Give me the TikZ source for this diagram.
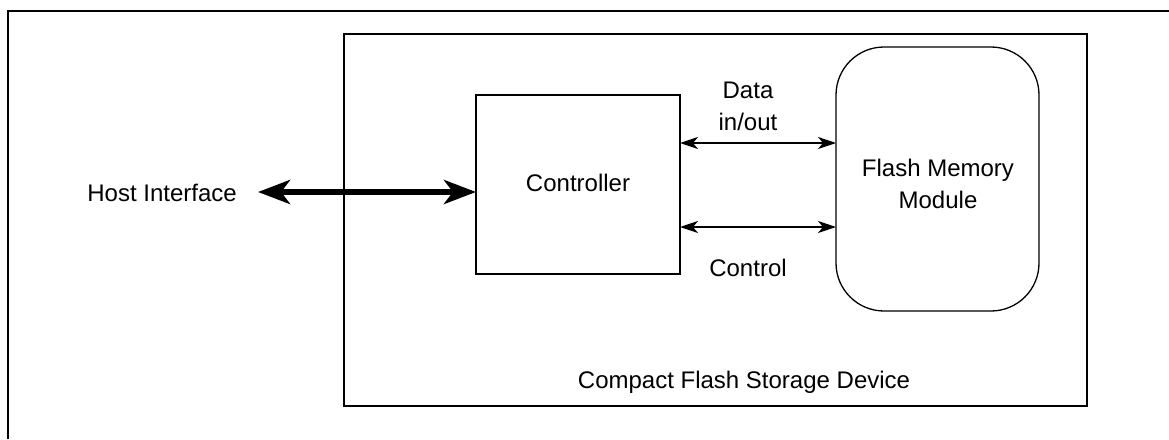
\documentclass[tikz,border=0pt]{standalone}
\usepackage{fontspec}
\setmainfont{Liberation Sans}
\usetikzlibrary{arrows.meta}
\begin{document}
\begin{tikzpicture}[x=1pt,y=-1pt,
  lbl/.style={font=\fontsize{24}{32}\selectfont, inner sep=0pt, align=center},
  frame/.style={line width=2pt},
  thinarrow/.style={line width=1.5pt, {Stealth[length=18pt,width=12pt,inset=5pt]}-{Stealth[length=18pt,width=12pt,inset=5pt]}},
  busarrow/.style={line width=6pt, {Stealth[length=32pt,width=24pt,inset=9pt]}-{Stealth[length=32pt,width=24pt,inset=9pt]}}]
\useasboundingbox (0,0) rectangle (1169,439);
% outer frame (open to the right and bottom)
\draw[frame] (8,439) -- (8,11) -- (1169,11);
% device enclosure
\draw[frame] (344,34) rectangle (1087,406);
\node[lbl] (devlbl) at (744,382) {Compact Flash Storage Device};
% controller block
\draw[frame] (476,95) rectangle (680,274);
\node[lbl] (ctrl) at (578,183) {Controller};
\coordinate (ctrlL) at (476,192);
\coordinate (ctrlT) at (680,143);
\coordinate (ctrlB) at (680,227);
% flash memory block
\draw[line width=1.3pt, rounded corners=48pt] (836,47) rectangle (1039,311);
\node[lbl] (flash) at (938,184) {Flash Memory\\Module};
\coordinate (flashT) at (836,143);
\coordinate (flashB) at (836,227);
% host side
\node[lbl, anchor=east] (host) at (237,193) {Host Interface};
\coordinate (hostE) at (258,192);
\draw[busarrow] (hostE) -- (ctrlL);
% internal buses
\draw[thinarrow] (ctrlT) -- (flashT);
\draw[thinarrow] (ctrlB) -- (flashB);
\node[lbl] (data) at (748,106) {Data\\in/out};
\node[lbl] (control) at (748,268) {Control};
\end{tikzpicture}
\end{document}
